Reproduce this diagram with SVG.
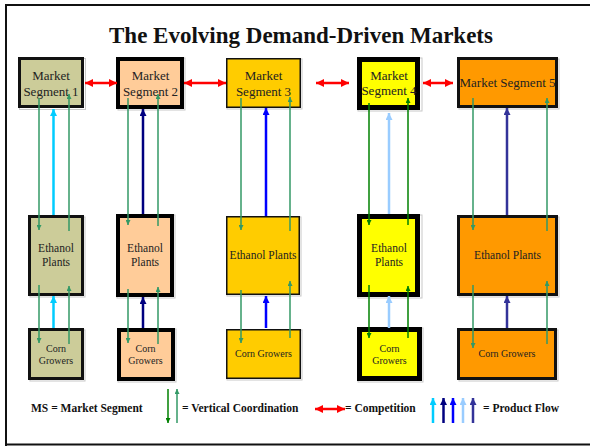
<svg xmlns="http://www.w3.org/2000/svg" width="590" height="446" viewBox="0 0 590 446">
<style>
.t{font-family:"Liberation Serif","Times New Roman",serif;fill:#222;text-anchor:middle}
.ms{font-size:13px}
.ep{font-size:11.5px}
.cg{font-size:10px}
.lg{font-family:"Liberation Serif","Times New Roman",serif;font-size:11.5px;font-weight:bold;fill:#111}
.sh{fill:none;stroke:#c8c8c8;stroke-width:1}
.c{fill:none}
.sg{stroke:#339966;stroke-width:1.5}
.dg{stroke:#008000;stroke-width:1.5}
.pf{stroke-width:2.5}
.rd{stroke:#FF0000;stroke-width:2.5}
</style>
<defs>
<marker id="aSg" viewBox="0 0 10 10" refX="10" refY="5" markerUnits="userSpaceOnUse" markerWidth="6" markerHeight="5" orient="auto"><path d="M0,0L10,5L0,10z" fill="#339966"/></marker>
<marker id="aDg" viewBox="0 0 10 10" refX="10" refY="5" markerUnits="userSpaceOnUse" markerWidth="6" markerHeight="5" orient="auto"><path d="M0,0L10,5L0,10z" fill="#008000"/></marker>
<marker id="aCy" viewBox="0 0 10 10" refX="10" refY="5" markerUnits="userSpaceOnUse" markerWidth="7" markerHeight="7" orient="auto"><path d="M0,0L10,5L0,10z" fill="#00CCFF"/></marker>
<marker id="aNv" viewBox="0 0 10 10" refX="10" refY="5" markerUnits="userSpaceOnUse" markerWidth="7" markerHeight="7" orient="auto"><path d="M0,0L10,5L0,10z" fill="#000080"/></marker>
<marker id="aBl" viewBox="0 0 10 10" refX="10" refY="5" markerUnits="userSpaceOnUse" markerWidth="7" markerHeight="7" orient="auto"><path d="M0,0L10,5L0,10z" fill="#0000FF"/></marker>
<marker id="aLb" viewBox="0 0 10 10" refX="10" refY="5" markerUnits="userSpaceOnUse" markerWidth="7" markerHeight="7" orient="auto"><path d="M0,0L10,5L0,10z" fill="#99CCFF"/></marker>
<marker id="aSl" viewBox="0 0 10 10" refX="10" refY="5" markerUnits="userSpaceOnUse" markerWidth="7" markerHeight="7" orient="auto"><path d="M0,0L10,5L0,10z" fill="#333399"/></marker>
<marker id="aRd" viewBox="0 0 10 10" refX="10" refY="5" markerUnits="userSpaceOnUse" markerWidth="8" markerHeight="8" orient="auto-start-reverse"><path d="M0,0L10,5L0,10z" fill="#FF0000"/></marker>
</defs>
<rect width="590" height="446" fill="#fff"/>
<g id="frame" fill="none" stroke="#111" stroke-width="2">
<path d="M6,446V5H590"/>
<path d="M6,444.5H590"/>
</g>
<text id="title" x="301" y="43" font-family="'Liberation Serif','Times New Roman',serif" font-size="23" font-weight="bold" text-anchor="middle" fill="#111">The Evolving Demand-Driven Markets</text>

<g id="ms1"><rect class="sh" x="19.5" y="58.5" width="66" height="51"/><rect x="19.5" y="58.5" width="63" height="48" fill="#CCCC99" stroke="#111" stroke-width="3"/><text class="t ms" x="51" y="80">Market</text><text class="t ms" x="51" y="96">Segment 1</text></g>
<g id="ms2"><rect class="sh" x="118" y="58" width="67" height="52"/><rect x="118" y="59" width="64" height="48" fill="#FFCC99" stroke="#000" stroke-width="4"/><text class="t ms" x="150.5" y="80">Market</text><text class="t ms" x="150.5" y="96">Segment 2</text></g>
<g id="ms3"><rect class="sh" x="227" y="59" width="75" height="50"/><rect x="226.75" y="58.75" width="73.5" height="48.5" fill="#FFCC00" stroke="#111" stroke-width="1.5"/><text class="t ms" x="263.5" y="80">Market</text><text class="t ms" x="263.5" y="96">Segment 3</text></g>
<g id="ms4"><rect class="sh" x="358" y="58" width="64" height="53"/><rect x="359.5" y="59.5" width="58" height="48" fill="#FFFF00" stroke="#000" stroke-width="5"/><text class="t ms" x="389" y="80">Market</text><text class="t ms" x="389" y="95">Segment 4</text></g>
<g id="ms5"><rect class="sh" x="459" y="59" width="100" height="50"/><rect x="458.5" y="58.5" width="98" height="48" fill="#FF9900" stroke="#111" stroke-width="3"/><text class="t ms" x="507.5" y="87">Market Segment 5</text></g>

<g id="ep1"><rect class="sh" x="30" y="217" width="55" height="80"/><rect x="29.5" y="216.5" width="53" height="78" fill="#CCCC99" stroke="#111" stroke-width="3"/><text class="t ep" x="56" y="252">Ethanol</text><text class="t ep" x="56" y="266">Plants</text></g>
<g id="ep2"><rect class="sh" x="117" y="215" width="58" height="83"/><rect x="118" y="216" width="54" height="79" fill="#FFCC99" stroke="#000" stroke-width="4"/><text class="t ep" x="145" y="252">Ethanol</text><text class="t ep" x="145" y="266">Plants</text></g>
<g id="ep3"><rect class="sh" x="227" y="217" width="74" height="79"/><rect x="226.75" y="216.75" width="72.5" height="77.5" fill="#FFCC00" stroke="#111" stroke-width="1.5"/><text class="t ep" x="263" y="259">Ethanol Plants</text></g>
<g id="ep4"><rect class="sh" x="358" y="215" width="64" height="83"/><rect x="359.5" y="216.5" width="58" height="78" fill="#FFFF00" stroke="#000" stroke-width="5"/><text class="t ep" x="389" y="252">Ethanol</text><text class="t ep" x="389" y="266">Plants</text></g>
<g id="ep5"><rect class="sh" x="459" y="217" width="100" height="80"/><rect x="458.5" y="216.5" width="98" height="78" fill="#FF9900" stroke="#111" stroke-width="3"/><text class="t ep" x="507.5" y="259">Ethanol Plants</text></g>

<g id="cg1"><rect class="sh" x="30" y="330" width="55" height="51"/><rect x="29.5" y="329.5" width="53" height="49" fill="#CCCC99" stroke="#111" stroke-width="3"/><text class="t cg" x="56" y="352">Corn</text><text class="t cg" x="56" y="364">Growers</text></g>
<g id="cg2"><rect class="sh" x="118" y="329" width="58" height="53"/><rect x="119" y="330" width="54" height="49" fill="#FFCC99" stroke="#000" stroke-width="4"/><text class="t cg" x="145.5" y="352">Corn</text><text class="t cg" x="145.5" y="364">Growers</text></g>
<g id="cg3"><rect class="sh" x="227" y="330" width="75" height="50"/><rect x="226.75" y="329.75" width="73.5" height="48.5" fill="#FFCC00" stroke="#111" stroke-width="1.5"/><text class="t cg" x="263.5" y="357">Corn Growers</text></g>
<g id="cg4"><rect class="sh" x="358" y="328" width="65" height="54"/><rect x="359.5" y="329.5" width="60" height="49" fill="#FFFF00" stroke="#000" stroke-width="5"/><text class="t cg" x="389.5" y="352">Corn</text><text class="t cg" x="389.5" y="364">Growers</text></g>
<g id="cg5"><rect class="sh" x="459" y="330" width="99" height="51"/><rect x="458.5" y="329.5" width="97" height="49" fill="#FF9900" stroke="#111" stroke-width="3"/><text class="t cg" x="507" y="357">Corn Growers</text></g>

<g id="connectors" class="c">
<line class="sg" x1="39" y1="98" x2="39" y2="230" marker-end="url(#aSg)"/>
<line class="sg" x1="69" y1="231" x2="69" y2="94" marker-end="url(#aSg)"/>
<line class="pf" stroke="#00CCFF" x1="53.5" y1="215" x2="53.5" y2="109" marker-end="url(#aCy)"/>
<line class="sg" x1="39" y1="285" x2="39" y2="343" marker-end="url(#aSg)"/>
<line class="sg" x1="69" y1="344" x2="69" y2="286" marker-end="url(#aSg)"/>
<line class="pf" stroke="#00CCFF" x1="53.5" y1="328" x2="53.5" y2="296" marker-end="url(#aCy)"/>
<line class="sg" x1="128" y1="98" x2="128" y2="225" marker-end="url(#aSg)"/>
<line class="sg" x1="158" y1="226" x2="158" y2="94" marker-end="url(#aSg)"/>
<line class="pf" stroke="#000080" x1="143" y1="214" x2="143" y2="109" marker-end="url(#aNv)"/>
<line class="sg" x1="128" y1="289" x2="128" y2="343" marker-end="url(#aSg)"/>
<line class="sg" x1="158" y1="344" x2="158" y2="287" marker-end="url(#aSg)"/>
<line class="pf" stroke="#000080" x1="143" y1="328" x2="143" y2="297" marker-end="url(#aNv)"/>
<line class="sg" x1="241" y1="98" x2="241" y2="230" marker-end="url(#aSg)"/>
<line class="sg" x1="290" y1="231" x2="290" y2="97" marker-end="url(#aSg)"/>
<line class="pf" stroke="#0000FF" x1="266" y1="216" x2="266" y2="108" marker-end="url(#aBl)"/>
<line class="sg" x1="241" y1="290" x2="241" y2="343" marker-end="url(#aSg)"/>
<line class="sg" x1="290" y1="338" x2="290" y2="281" marker-end="url(#aSg)"/>
<line class="pf" stroke="#0000FF" x1="266" y1="328" x2="266" y2="296" marker-end="url(#aBl)"/>
<line class="dg" x1="369" y1="103" x2="369" y2="225" marker-end="url(#aDg)"/>
<line class="dg" x1="408" y1="225" x2="408" y2="98" marker-end="url(#aDg)"/>
<line class="pf" stroke="#99CCFF" x1="389" y1="214" x2="389" y2="113" marker-end="url(#aLb)"/>
<line class="dg" x1="369" y1="285" x2="369" y2="338" marker-end="url(#aDg)"/>
<line class="dg" x1="408" y1="338" x2="408" y2="286" marker-end="url(#aDg)"/>
<line class="pf" stroke="#99CCFF" x1="389" y1="328" x2="389" y2="296" marker-end="url(#aLb)"/>
<line class="sg" x1="473" y1="98" x2="473" y2="230" marker-end="url(#aSg)"/>
<line class="sg" x1="547" y1="231" x2="547" y2="98" marker-end="url(#aSg)"/>
<line class="pf" stroke="#333399" x1="507" y1="215" x2="507" y2="108" marker-end="url(#aSl)"/>
<line class="sg" x1="473" y1="285" x2="473" y2="348" marker-end="url(#aSg)"/>
<line class="sg" x1="547" y1="344" x2="547" y2="281" marker-end="url(#aSg)"/>
<line class="pf" stroke="#333399" x1="507" y1="328" x2="507" y2="296" marker-end="url(#aSl)"/>
<line class="rd" x1="85" y1="83" x2="117" y2="83" marker-start="url(#aRd)" marker-end="url(#aRd)"/>
<line class="rd" x1="184" y1="83" x2="226" y2="83" marker-start="url(#aRd)" marker-end="url(#aRd)"/>
<line class="rd" x1="316" y1="83" x2="349" y2="83" marker-start="url(#aRd)" marker-end="url(#aRd)"/>
<line class="rd" x1="423" y1="83" x2="453" y2="83" marker-start="url(#aRd)" marker-end="url(#aRd)"/>
</g>

<g id="legend">
<text class="lg" x="31" y="412">MS = Market Segment</text>
<line class="dg" x1="168" y1="389" x2="168" y2="423" marker-end="url(#aDg)"/>
<line class="sg" x1="177" y1="423" x2="177" y2="389" marker-end="url(#aSg)"/>
<text class="lg" x="182" y="412">= Vertical Coordination</text>
<line class="rd" x1="315" y1="409" x2="345" y2="409" marker-start="url(#aRd)" marker-end="url(#aRd)"/>
<text class="lg" x="345" y="412">= Competition</text>
<line class="pf" stroke="#00CCFF" x1="433" y1="423" x2="433" y2="398" marker-end="url(#aCy)"/>
<line class="pf" stroke="#000080" x1="443.5" y1="423" x2="443.5" y2="398" marker-end="url(#aNv)"/>
<line class="pf" stroke="#0000FF" x1="453" y1="423" x2="453" y2="398" marker-end="url(#aBl)"/>
<line class="pf" stroke="#99CCFF" x1="463" y1="423" x2="463" y2="398" marker-end="url(#aLb)"/>
<line class="pf" stroke="#333399" x1="473" y1="423" x2="473" y2="398" marker-end="url(#aSl)"/>
<text class="lg" x="483" y="412">= Product Flow</text>
</g>
</svg>
